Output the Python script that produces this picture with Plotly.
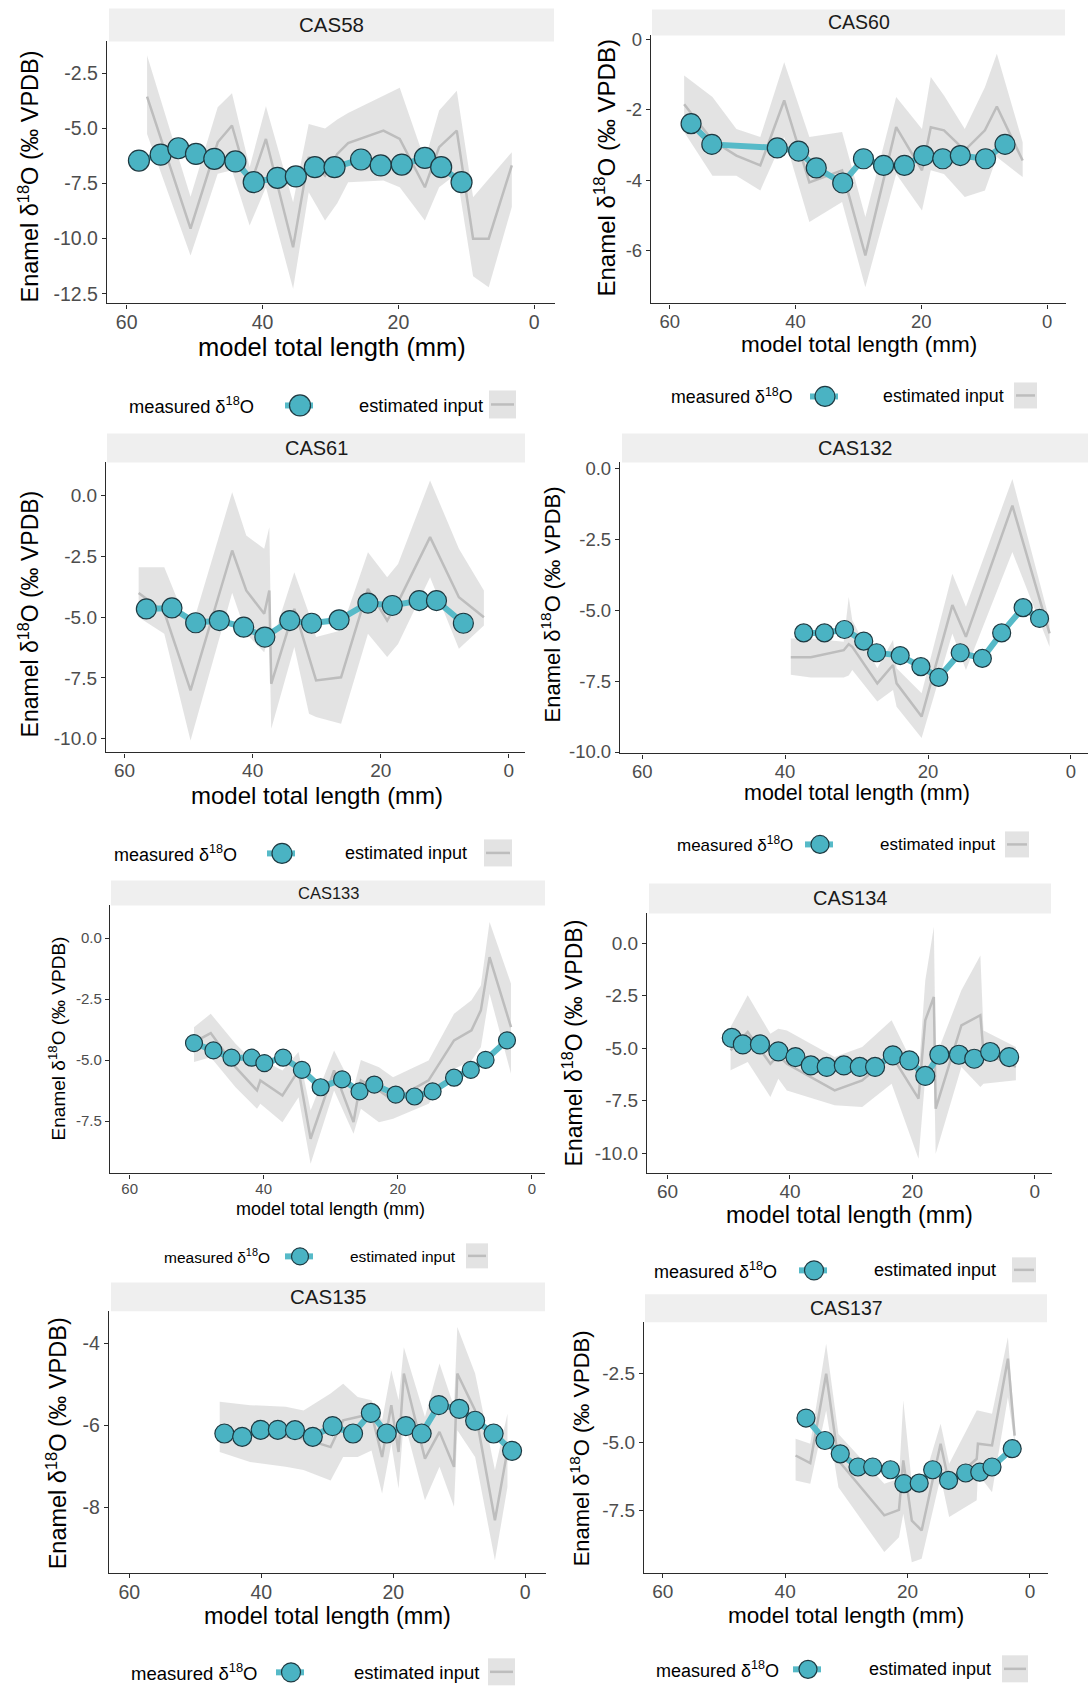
import plotly.graph_objects as go

W, H = 1090, 1686

# ---------------- data ----------------
panel_names = ["CAS58", "CAS60", "CAS61", "CAS132", "CAS133", "CAS134", "CAS135", "CAS137"]

cas58_meas_x = [58.2, 55.0, 52.4, 49.8, 47.1, 44.0, 41.3, 37.8, 35.1, 32.3, 29.4, 25.5, 22.6, 19.5, 16.1, 13.7, 10.7]
cas58_meas_y = [-6.46, -6.19, -5.90, -6.16, -6.38, -6.50, -7.44, -7.24, -7.18, -6.76, -6.76, -6.41, -6.68, -6.64, -6.34, -6.76, -7.44]
cas58_est_x = [57.0, 50.6, 46.6, 44.5, 41.9, 39.5, 35.5, 33.2, 30.8, 29.0, 27.4, 22.2, 19.8, 16.1, 14.0, 11.4, 9.0, 6.7, 3.3]
cas58_est_mid = [-3.56, -9.55, -5.63, -4.87, -7.67, -5.48, -10.39, -6.30, -7.14, -6.16, -5.67, -5.10, -5.48, -7.67, -5.85, -5.10, -10.0, -10.0, -6.68]
cas58_est_hi = [-1.70, -8.10, -4.04, -3.41, -6.76, -4.00, -8.35, -4.80, -5.00, -4.60, -4.30, -3.50, -3.16, -6.46, -4.19, -3.29, -8.12, -7.29, -6.08]
cas58_est_lo = [-5.25, -10.76, -7.06, -6.90, -9.40, -7.67, -12.27, -7.90, -9.18, -8.40, -7.44, -7.36, -7.67, -9.18, -7.67, -7.06, -11.70, -12.20, -8.57]

cas60_meas_x = [56.6, 53.3, 42.9, 39.5, 36.7, 32.5, 29.2, 26.0, 22.7, 19.6, 16.6, 13.8, 9.8, 6.7]
cas60_meas_y = [-2.39, -2.98, -3.08, -3.17, -3.65, -4.08, -3.39, -3.58, -3.58, -3.30, -3.39, -3.30, -3.39, -2.98]
cas60_est_x = [57.7, 53.2, 49.4, 45.6, 41.8, 37.8, 32.6, 28.9, 24.0, 19.9, 18.5, 16.4, 13.1, 9.9, 8.0, 3.9]
cas60_est_mid = [-1.84, -2.87, -3.30, -3.58, -1.73, -4.06, -3.72, -6.14, -2.49, -3.72, -2.49, -2.58, -3.15, -2.58, -1.90, -3.44]
cas60_est_hi = [-1.02, -1.63, -2.54, -2.77, -0.64, -2.77, -2.63, -5.05, -1.63, -2.54, -1.06, -1.59, -2.54, -1.35, -0.40, -2.92]
cas60_est_lo = [-2.63, -3.87, -3.87, -4.29, -2.77, -5.19, -4.62, -7.05, -3.82, -4.86, -3.72, -3.82, -4.48, -4.29, -3.34, -3.91]

cas61_meas_x = [56.6, 52.6, 48.9, 45.2, 41.4, 38.1, 34.2, 30.8, 26.5, 22.0, 18.2, 14.0, 11.3, 7.1]
cas61_meas_y = [-4.66, -4.62, -5.23, -5.14, -5.41, -5.82, -5.14, -5.25, -5.11, -4.42, -4.52, -4.32, -4.32, -5.25]
cas61_est_x = [57.8, 53.8, 49.7, 43.2, 41.0, 38.2, 37.4, 37.1, 33.5, 31.2, 30.1, 26.2, 22.0, 19.0, 17.3, 12.3, 7.8, 3.9]
cas61_est_mid = [-4.01, -4.79, -8.01, -2.26, -3.90, -4.86, -3.90, -7.74, -4.66, -6.58, -7.60, -7.47, -3.84, -5.14, -4.38, -1.71, -4.18, -5.00]
cas61_est_hi = [-2.95, -2.95, -5.60, 0.14, -1.64, -2.19, -1.30, -6.10, -3.15, -4.86, -5.82, -5.55, -2.33, -3.36, -2.81, 0.62, -2.19, -3.90]
cas61_est_lo = [-5.00, -5.68, -10.07, -4.00, -5.68, -6.44, -5.68, -9.59, -6.23, -8.97, -9.10, -9.38, -5.68, -6.64, -6.10, -3.36, -6.30, -5.34]

cas132_meas_x = [37.4, 34.5, 31.7, 29.0, 27.2, 23.9, 21.0, 18.5, 15.5, 12.4, 9.7, 6.7, 4.4]
cas132_meas_y = [-5.80, -5.80, -5.68, -6.09, -6.50, -6.60, -6.99, -7.37, -6.50, -6.70, -5.80, -4.91, -5.29]
cas132_est_x = [39.2, 36.4, 31.8, 31.1, 30.6, 27.1, 24.9, 24.4, 20.9, 16.6, 14.7, 8.2, 3.0]
cas132_est_mid = [-6.66, -6.66, -6.41, -6.20, -6.29, -7.58, -6.93, -7.58, -8.75, -4.82, -5.94, -1.31, -5.82]
cas132_est_hi = [-6.00, -6.00, -6.11, -4.53, -5.35, -7.05, -6.05, -7.05, -7.93, -3.71, -4.88, -0.37, -5.35]
cas132_est_lo = [-7.28, -7.37, -7.37, -7.30, -7.11, -8.22, -7.81, -8.40, -9.51, -5.82, -7.11, -2.95, -6.29]

cas133_meas_x = [50.4, 47.5, 44.8, 41.8, 39.9, 37.1, 34.3, 31.5, 28.3, 25.7, 23.5, 20.3, 17.5, 14.8, 11.6, 9.1, 6.9, 3.7]
cas133_meas_y = [-4.30, -4.60, -4.90, -4.90, -5.12, -4.90, -5.40, -6.11, -5.79, -6.28, -6.00, -6.41, -6.49, -6.28, -5.72, -5.40, -4.99, -4.19]
cas133_est_x = [50.4, 47.9, 44.2, 41.0, 40.5, 37.2, 34.8, 33.0, 29.5, 26.6, 25.5, 22.8, 20.7, 15.4, 11.6, 9.0, 7.6, 6.3, 3.1]
cas133_est_mid = [-4.26, -3.89, -5.29, -6.24, -5.83, -6.45, -5.42, -8.22, -5.42, -7.54, -5.83, -6.24, -6.65, -5.83, -4.19, -3.78, -2.96, -0.78, -3.65]
cas133_est_hi = [-3.65, -3.10, -4.33, -5.21, -4.95, -5.42, -4.67, -7.06, -4.60, -6.17, -4.99, -5.29, -5.70, -5.01, -3.10, -2.55, -1.94, 0.66, -1.87]
cas133_est_lo = [-5.08, -4.88, -6.11, -6.99, -6.79, -7.54, -6.52, -9.25, -6.24, -8.02, -6.99, -7.54, -7.40, -6.79, -5.36, -5.01, -4.47, -2.28, -5.56]

cas134_meas_x = [49.5, 47.7, 44.9, 41.9, 39.1, 36.6, 34.0, 31.2, 28.6, 26.1, 23.2, 20.5, 17.9, 15.6, 12.4, 9.9, 7.3, 4.2]
cas134_meas_y = [-4.52, -4.83, -4.83, -5.16, -5.43, -5.83, -5.90, -5.83, -5.90, -5.90, -5.35, -5.59, -6.33, -5.32, -5.32, -5.51, -5.19, -5.43]
cas134_est_x = [49.7, 46.9, 43.2, 41.9, 40.5, 32.7, 28.2, 23.4, 19.0, 17.9, 16.5, 16.2, 12.0, 8.9, 8.4, 3.1]
cas134_est_mid = [-5.11, -4.24, -5.75, -5.35, -5.75, -7.02, -6.54, -5.35, -7.41, -3.68, -2.57, -7.89, -3.92, -3.44, -5.19, -5.90]
cas134_est_hi = [-4.00, -2.49, -4.32, -4.08, -4.16, -5.43, -4.95, -3.68, -6.30, -1.78, 0.76, -5.43, -2.25, -0.59, -4.16, -4.95]
cas134_est_lo = [-6.06, -5.67, -7.33, -6.46, -7.02, -7.73, -7.81, -6.70, -10.27, -6.38, -5.43, -10.03, -5.90, -6.86, -6.70, -6.54]

cas135_meas_x = [45.6, 42.9, 40.1, 37.5, 34.9, 32.2, 29.2, 26.1, 23.4, 21.0, 18.1, 15.7, 13.1, 10.0, 7.6, 4.8, 2.0]
cas135_meas_y = [-6.20, -6.28, -6.11, -6.11, -6.12, -6.28, -6.02, -6.20, -5.70, -6.20, -6.02, -6.20, -5.51, -5.60, -5.89, -6.20, -6.62]
cas135_est_x = [46.3, 41.7, 36.3, 33.6, 29.5, 27.6, 25.4, 23.3, 21.7, 20.3, 19.2, 18.4, 15.2, 13.0, 10.8, 10.3, 7.6, 4.6, 2.7]
cas135_est_mid = [-6.20, -6.20, -6.28, -6.32, -6.53, -5.88, -5.80, -5.72, -6.77, -5.51, -6.65, -4.74, -6.81, -6.16, -7.01, -4.74, -5.64, -8.31, -6.61]
cas135_est_hi = [-5.43, -5.51, -5.55, -5.64, -5.23, -4.99, -5.31, -5.39, -5.88, -4.66, -5.39, -4.10, -5.80, -4.50, -5.55, -3.61, -4.74, -7.09, -5.72]
cas135_est_lo = [-6.65, -6.89, -7.01, -7.09, -7.34, -6.77, -6.77, -6.61, -7.66, -6.45, -7.54, -5.88, -7.82, -7.01, -7.98, -6.12, -6.77, -9.28, -7.50]

cas137_meas_x = [36.6, 33.5, 31.0, 28.1, 25.7, 22.8, 20.6, 18.1, 15.9, 13.3, 10.5, 8.2, 6.2, 2.9]
cas137_meas_y = [-4.12, -4.94, -5.43, -5.91, -5.91, -6.01, -6.52, -6.50, -6.01, -6.40, -6.13, -6.10, -5.91, -5.24]
cas137_est_x = [38.3, 35.9, 33.3, 31.3, 23.8, 21.4, 20.7, 19.3, 17.7, 14.6, 13.2, 8.7, 8.5, 6.2, 3.6, 2.5]
cas137_est_mid = [-5.49, -5.77, -2.50, -5.67, -7.68, -7.48, -5.67, -7.87, -8.23, -5.06, -6.52, -5.61, -5.06, -5.12, -1.95, -4.76]
cas137_est_hi = [-4.88, -5.06, -1.40, -4.70, -6.52, -6.34, -3.48, -6.52, -6.65, -4.33, -5.79, -3.84, -3.84, -3.96, -1.16, -4.51]
cas137_est_lo = [-6.40, -6.52, -3.84, -6.65, -9.02, -8.48, -7.62, -9.39, -9.27, -6.28, -7.74, -7.13, -6.16, -6.83, -3.35, -5.06]

x_tick_vals = [0, 20, 40, 60]
x_tick_text = ["0", "20", "40", "60"]
y_ticks_half = [-12.5, -10, -7.5, -5, -2.5, 0]
y_ticks_half_text = ["-12.5", "-10.0", "-7.5", "-5.0", "-2.5", "0.0"]
y_ticks_even = [-8, -6, -4, -2, 0]
y_ticks_even_text = ["-8", "-6", "-4", "-2", "0"]
legend_measured_label = "measured δ<sup>18</sup>O"
legend_estimated_label = "estimated input"
x_title = "model total length (mm)"
y_title = "Enamel δ<sup>18</sup>O (‰ VPDB)"

series = [
    (cas58_meas_x, cas58_meas_y, cas58_est_x, cas58_est_mid, cas58_est_hi, cas58_est_lo),
    (cas60_meas_x, cas60_meas_y, cas60_est_x, cas60_est_mid, cas60_est_hi, cas60_est_lo),
    (cas61_meas_x, cas61_meas_y, cas61_est_x, cas61_est_mid, cas61_est_hi, cas61_est_lo),
    (cas132_meas_x, cas132_meas_y, cas132_est_x, cas132_est_mid, cas132_est_hi, cas132_est_lo),
    (cas133_meas_x, cas133_meas_y, cas133_est_x, cas133_est_mid, cas133_est_hi, cas133_est_lo),
    (cas134_meas_x, cas134_meas_y, cas134_est_x, cas134_est_mid, cas134_est_hi, cas134_est_lo),
    (cas135_meas_x, cas135_meas_y, cas135_est_x, cas135_est_mid, cas135_est_hi, cas135_est_lo),
    (cas137_meas_x, cas137_meas_y, cas137_est_x, cas137_est_mid, cas137_est_hi, cas137_est_lo),
]

# ---------------- layout specs (pixels) ----------------
panels = [
    dict(plot=(107, 555, 41, 303), strip=(109, 554, 8, 41), xr=[62.9, -3.06], yr=[-12.94, -1.06],
         yset="half", ylim=(-12.5, -2.5), xt=(332, 347), ytl=(29, 176),
         leg_y=405, leg_m=127, leg_mk=300, leg_e=357, leg_box=(489, 516, 390, 418),
         tick=19.5, xtitle=25.5, ytitle=23.5, strip_fs=20.5, leg_fs=18.3, msize=21),
    dict(plot=(651, 1066, 35, 303), strip=(652, 1065, 9, 35), xr=[62.97, -2.99], yr=[-7.51, 0.12],
         yset="even", ylim=(-6, 0), xt=(859, 344), ytl=(605, 168),
         leg_y=396, leg_m=669, leg_mk=825, leg_e=881, leg_box=(1014, 1037, 382, 408),
         tick=18.5, xtitle=22.5, ytitle=24, strip_fs=19.5, leg_fs=17.8, msize=20),
    dict(plot=(106, 525, 462, 752), strip=(107, 525, 433, 462), xr=[62.9, -2.52], yr=[-10.56, 1.36],
         yset="half", ylim=(-10, 0), xt=(317, 795), ytl=(29, 614),
         leg_y=853, leg_m=112, leg_mk=282, leg_e=343, leg_box=(484, 512, 839, 866),
         tick=19, xtitle=24, ytitle=23, strip_fs=20, leg_fs=18, msize=20),
    dict(plot=(620, 1088, 462, 753), strip=(622, 1088, 433, 462), xr=[63.1, -2.38], yr=[-10.05, 0.21],
         yset="half", ylim=(-10, 0), xt=(857, 793), ytl=(551, 604),
         leg_y=844, leg_m=675, leg_mk=820, leg_e=878, leg_box=(1005, 1029, 831, 857),
         tick=18.5, xtitle=21.5, ytitle=22, strip_fs=20, leg_fs=17, msize=18),
    dict(plot=(110, 545, 905, 1173), strip=(111, 545, 880, 905), xr=[62.93, -1.97], yr=[-9.64, 1.34],
         yset="half", ylim=(-7.5, 0), xt=(330, 1209), ytl=(57, 1038),
         leg_y=1256, leg_m=162, leg_mk=300, leg_e=348, leg_box=(466, 488, 1243, 1268),
         tick=15, xtitle=18, ytitle=19, strip_fs=16.5, leg_fs=15.5, msize=17),
    dict(plot=(647, 1052, 913, 1173), strip=(649, 1051, 883, 913), xr=[63.35, -2.8], yr=[-10.97, 1.41],
         yset="half", ylim=(-10, 0), xt=(849, 1215), ytl=(573, 1043),
         leg_y=1270, leg_m=652, leg_mk=814, leg_e=872, leg_box=(1012, 1036, 1257, 1282),
         tick=19, xtitle=23.5, ytitle=23, strip_fs=20, leg_fs=18, msize=19),
    dict(plot=(109, 546, 1311, 1573), strip=(111, 545, 1282, 1311), xr=[63.08, -3.14], yr=[-9.6, -3.23],
         yset="even", ylim=(-8, -4), xt=(327, 1616), ytl=(57, 1443),
         leg_y=1672, leg_m=129, leg_mk=291, leg_e=352, leg_box=(488, 515, 1658, 1685),
         tick=19.5, xtitle=23.5, ytitle=23.5, strip_fs=20.5, leg_fs=18.5, msize=19),
    dict(plot=(644, 1048, 1322, 1573), strip=(645, 1047, 1294, 1322), xr=[63.07, -2.95], yr=[-9.8, -0.62],
         yset="half", ylim=(-7.5, -2.5), xt=(846, 1615), ytl=(580, 1448),
         leg_y=1669, leg_m=654, leg_mk=808, leg_e=867, leg_box=(1002, 1028, 1655, 1682),
         tick=19, xtitle=22.5, ytitle=22, strip_fs=19.5, leg_fs=18, msize=18),
]

FONT = "Liberation Sans, Arial, Helvetica, sans-serif"
CYAN = "#4AB3C3"
CYAN_LINE = "#56BAC8"
EDGE = "#1E3A42"
BAND = "rgba(200,200,200,0.5)"
GRAYLINE = "#BDBDBD"
TICKCOL = "#4D4D4D"
AXCOL = "#2B2B2B"

# vertical calibration of pixel positions to the captured page
Y_OFF, Y_SCALE = 5.5, 0.9912


def px(x):
    return x / W


def py(y):
    return 1 - ((y - Y_OFF) / Y_SCALE) / H


def y_ticks(spec):
    vals, txt = (y_ticks_half, y_ticks_half_text) if spec["yset"] == "half" else (y_ticks_even, y_ticks_even_text)
    lo, hi = spec["ylim"]
    pairs = [(v, t) for v, t in zip(vals, txt) if lo - 1e-9 <= v <= hi + 1e-9]
    return [p[0] for p in pairs], [p[1] for p in pairs]


fig = go.Figure()
layout = dict(width=W, height=H, autosize=False, margin=dict(l=0, r=0, t=0, b=0, pad=0),
              paper_bgcolor="white", plot_bgcolor="white", showlegend=False,
              font=dict(family=FONT, color="black"))
shapes = []
annotations = []

for i, (name, spec, data) in enumerate(zip(panel_names, panels, series), start=1):
    mx, my, ex, emid, ehi, elo = data
    xa = "x" if i == 1 else f"x{i}"
    ya = "y" if i == 1 else f"y{i}"
    xkey = "xaxis" if i == 1 else f"xaxis{i}"
    ykey = "yaxis" if i == 1 else f"yaxis{i}"
    L, R, T, B = spec["plot"]

    fig.add_trace(go.Scatter(x=list(ex) + list(ex)[::-1], y=list(ehi) + list(elo)[::-1],
                             fill="toself", fillcolor=BAND, line=dict(width=0),
                             mode="lines", hoverinfo="skip", xaxis=xa, yaxis=ya))
    fig.add_trace(go.Scatter(x=ex, y=emid, mode="lines", line=dict(color=GRAYLINE, width=2.5),
                             xaxis=xa, yaxis=ya, name="estimated input"))
    fig.add_trace(go.Scatter(x=mx, y=my, mode="lines+markers",
                             line=dict(color=CYAN_LINE, width=6),
                             marker=dict(size=spec["msize"], color=CYAN, line=dict(color=EDGE, width=1.2)),
                             xaxis=xa, yaxis=ya, name="measured δ18O"))

    yv, yt = y_ticks(spec)
    layout[xkey] = dict(domain=[px(L), px(R)], range=spec["xr"], anchor=ya,
                        tickmode="array", tickvals=x_tick_vals, ticktext=x_tick_text,
                        showgrid=False, zeroline=False, showline=True, linecolor=AXCOL, linewidth=1.3,
                        ticks="outside", ticklen=4, tickcolor=AXCOL, tickwidth=1.2,
                        ticklabelstandoff=-3,
                        tickfont=dict(size=spec["tick"], color=TICKCOL, family=FONT))
    layout[ykey] = dict(domain=[py(B), py(T)], range=spec["yr"], anchor=xa,
                        tickmode="array", tickvals=yv, ticktext=yt,
                        showgrid=False, zeroline=False, showline=True, linecolor=AXCOL, linewidth=1.3,
                        ticks="outside", ticklen=4, tickcolor=AXCOL, tickwidth=1.2,
                        tickfont=dict(size=spec["tick"], color=TICKCOL, family=FONT))

    # strip
    sL, sR, sT, sB = spec["strip"]
    shapes.append(dict(type="rect", xref="paper", yref="paper", x0=px(sL), x1=px(sR), y0=py(sB), y1=py(sT),
                       fillcolor="#EFEFEF", line=dict(width=0), layer="below"))
    annotations.append(dict(text=name, xref="paper", yref="paper", x=px((sL + sR) / 2), y=py((sT + sB) / 2),
                            xanchor="center", yanchor="middle", showarrow=False,
                            font=dict(size=spec["strip_fs"], color="#1A1A1A", family=FONT)))
    # axis titles
    annotations.append(dict(text=x_title, xref="paper", yref="paper", x=px(spec["xt"][0]), y=py(spec["xt"][1]),
                            xanchor="center", yanchor="middle", showarrow=False,
                            font=dict(size=spec["xtitle"], color="black", family=FONT)))
    annotations.append(dict(text=y_title, xref="paper", yref="paper", x=px(spec["ytl"][0]), y=py(spec["ytl"][1]),
                            xanchor="center", yanchor="middle", showarrow=False, textangle=-90,
                            font=dict(size=spec["ytitle"], color="black", family=FONT)))
    # legend
    ly = spec["leg_y"]
    annotations.append(dict(text=legend_measured_label, xref="paper", yref="paper", x=px(spec["leg_m"]), y=py(ly),
                            xanchor="left", yanchor="middle", showarrow=False,
                            font=dict(size=spec["leg_fs"], color="black", family=FONT)))
    annotations.append(dict(text=legend_estimated_label, xref="paper", yref="paper", x=px(spec["leg_e"]), y=py(ly),
                            xanchor="left", yanchor="middle", showarrow=False,
                            font=dict(size=spec["leg_fs"], color="black", family=FONT)))
    mk = spec["leg_mk"]
    shapes.append(dict(type="line", xref="paper", yref="paper", x0=px(mk - 15), x1=px(mk + 13), y0=py(ly), y1=py(ly),
                       line=dict(color=CYAN_LINE, width=6)))
    r = spec["msize"] / 2
    shapes.append(dict(type="circle", xref="paper", yref="paper", xsizemode="pixel", ysizemode="pixel",
                       xanchor=px(mk), yanchor=py(ly), x0=-r, x1=r, y0=-r, y1=r,
                       fillcolor=CYAN, line=dict(color=EDGE, width=1.2)))
    bL, bR, bT, bB = spec["leg_box"]
    shapes.append(dict(type="rect", xref="paper", yref="paper", x0=px(bL), x1=px(bR), y0=py(bB), y1=py(bT),
                       fillcolor="#E3E3E3", line=dict(width=0)))
    shapes.append(dict(type="line", xref="paper", yref="paper", x0=px(bL + 2), x1=px(bR - 2),
                       y0=py((bT + bB) / 2), y1=py((bT + bB) / 2), line=dict(color=GRAYLINE, width=2.5)))

layout["shapes"] = shapes
layout["annotations"] = annotations
fig.update_layout(**layout)
fig.write_html("out.html", config={"displayModeBar": False},
               post_script="document.body.style.margin='0px';")
